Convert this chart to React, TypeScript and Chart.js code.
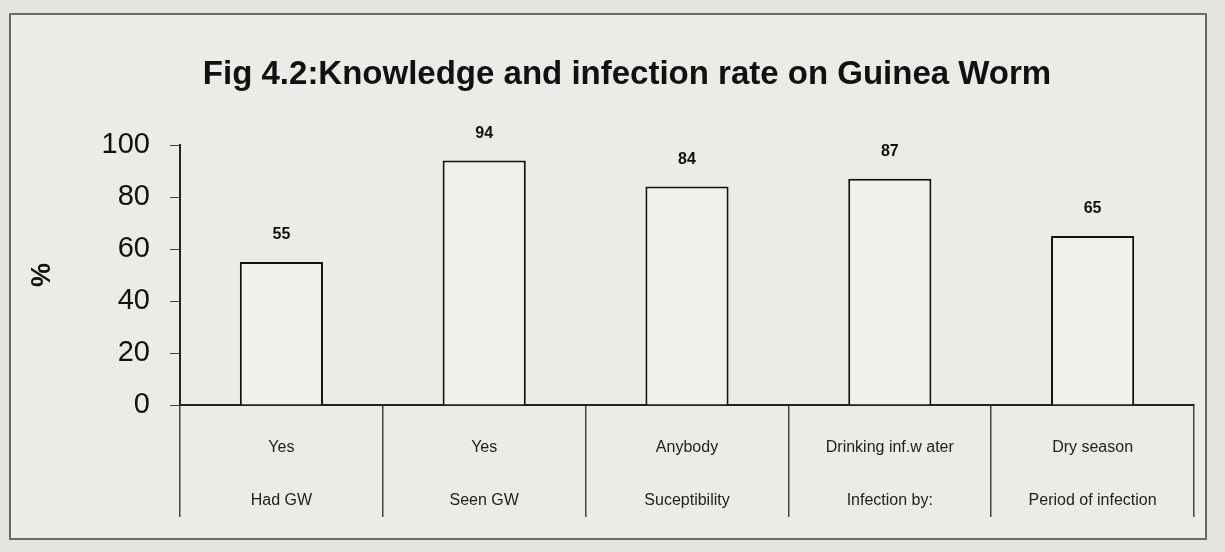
import React, { useEffect, useRef } from "react";
import { Chart, registerables } from "chart.js";

Chart.register(...registerables);

const titleText = "Fig 4.2:Knowledge and infection rate on Guinea Worm";
const answers = ["Yes", "Yes", "Anybody", "Drinking inf.w ater", "Dry season"];
const questions = ["Had GW", "Seen GW", "Suceptibility", "Infection by:", "Period of infection"];
const percents = [55, 94, 84, 87, 65];
const yTicks = [0, 20, 40, 60, 80, 100];

const FONT = "'Liberation Sans', Arial, sans-serif";

const framePlugin = {
  id: "frame",
  beforeDraw(chart: any) {
    const { ctx, width, height } = chart;
    ctx.save();
    ctx.fillStyle = "#e4e4e1";
    ctx.fillRect(0, 0, width, height);
    ctx.fillStyle = "#ecebe8";
    ctx.fillRect(10, 14, 1196, 525);
    ctx.strokeStyle = "#6a6a6a";
    ctx.lineWidth = 2;
    ctx.strokeRect(10, 14, 1196, 525);
    ctx.restore();
  },
};

const titlePlugin = {
  id: "figTitle",
  afterDraw(chart: any) {
    const { ctx } = chart;
    ctx.save();
    ctx.fillStyle = "#111";
    ctx.font = `bold 33px ${FONT}`;
    ctx.textAlign = "center";
    ctx.textBaseline = "middle";
    ctx.fillText(titleText, 627, 75);
    ctx.restore();
  },
};

const valueLabels = {
  id: "valueLabels",
  afterDatasetsDraw(chart: any) {
    const { ctx } = chart;
    const meta = chart.getDatasetMeta(0);
    ctx.save();
    ctx.fillStyle = "#111";
    ctx.font = `bold 16px ${FONT}`;
    ctx.textAlign = "center";
    ctx.textBaseline = "middle";
    meta.data.forEach((el: any, i: number) => {
      ctx.fillText(String(percents[i]), el.x, el.y - 27);
    });
    ctx.restore();
  },
};

export default function App() {
  const ref = useRef<HTMLCanvasElement>(null);
  useEffect(() => {
    document.body.style.margin = "0";
    const labels = answers.map((a, i) => [a, questions[i]]);
    const chart = new Chart(ref.current!, {
      type: "bar",
      data: {
        labels,
        datasets: [
          {
            data: percents,
            backgroundColor: "#f1f0ed",
            borderColor: "#111",
            borderWidth: 2,
            barPercentage: 0.41,
            categoryPercentage: 1,
          },
        ],
      },
      options: {
        animation: false,
        responsive: false,
        maintainAspectRatio: false,
        layout: { padding: { left: 0, right: 31, top: 145, bottom: 0 } },
        plugins: {
          legend: { display: false },
          tooltip: { enabled: false },
          title: { display: false },
        },
        scales: {
          x: {
            offset: true,
            border: { display: true, color: "#222", width: 2 },
            grid: {
              offset: true,
              drawOnChartArea: false,
              drawTicks: true,
              tickLength: 112,
              color: "#444",
              lineWidth: 1.5,
            },
            ticks: {
              color: "#222",
              font: { family: FONT, size: 16, lineHeight: 3.3 },
              padding: -96,
              maxRotation: 0,
              autoSkip: false,
            },
            afterFit: (s: any) => {
              s.height = 147;
            },
          },
          y: {
            min: 0,
            max: 100,
            afterBuildTicks: (s: any) => {
              s.ticks = yTicks.map((v) => ({ value: v }));
            },
            border: { display: true, color: "#222", width: 2 },
            grid: { drawOnChartArea: false, drawTicks: true, tickLength: 10, color: "#444" },
            ticks: {
              color: "#111",
              font: { family: FONT, size: 29 },
              padding: 20,
            },
            title: {
              display: true,
              text: "%",
              color: "#111",
              font: { family: FONT, size: 27, weight: "bold", lineHeight: 1.2 },
              padding: { top: 26, bottom: 0 },
            },
            afterFit: (s: any) => {
              s.width = 180;
            },
          },
        },
      },
      plugins: [framePlugin, valueLabels, titlePlugin],
    } as any);
    return () => chart.destroy();
  }, []);
  return <canvas ref={ref} width={1225} height={552} style={{ display: "block" }} />;
}
